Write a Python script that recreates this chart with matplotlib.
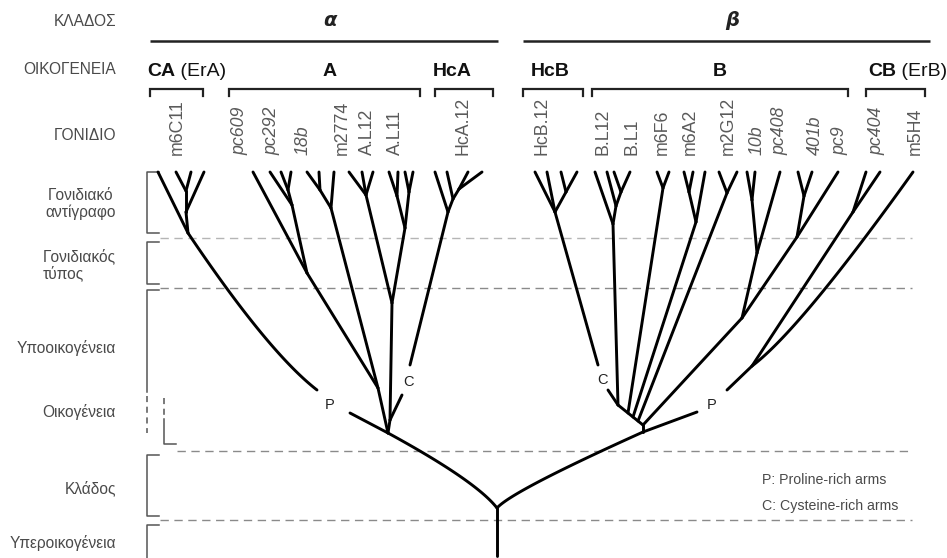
import numpy as np
import matplotlib
matplotlib.use("Agg")
import matplotlib.pyplot as plt

plt.rcParams['font.family'] = ['Liberation Sans', 'DejaVu Sans']

# ---------------- data ----------------
level_labels = ['ΚΛΑΔΟΣ', 'ΟΙΚΟΓΕΝΕΙΑ', 'ΓΟΝΙΔΙΟ', 'Γονιδιακό\nαντίγραφο',
                'Γονιδιακός\nτύπος', 'Υποοικογένεια', 'Οικογένεια', 'Κλάδος',
                'Υπεροικογένεια']
level_y = [22, 70, 135, 204, 265, 348, 412, 488, 543]
level_ma = ['right', 'right', 'right', 'center', 'left', 'right', 'right', 'right', 'right']

clades = ['α', 'β']
clade_x = [330, 732]
clade_span = [(150, 498), (523, 930)]

families = [('CA', ' (ErA)'), ('A', ''), ('HcA', ''), ('HcB', ''), ('B', ''), ('CB', ' (ErB)')]
family_span = [(150, 203), (229, 420), (435, 493), (523, 583), (592, 848), (866, 925)]
family_x = [147, 330, 452, 550, 720, 868]
family_ha = ['left', 'center', 'center', 'center', 'center', 'left']

genes = ['m6C11', 'pc609', 'pc292', '18b', 'm2774', 'A.L12', 'A.L11', 'HcA.12',
         'HcB.12', 'B.L12', 'B.L1', 'm6F6', 'm6A2', 'm2G12', '10b', 'pc408',
         '401b', 'pc9', 'pc404', 'm5H4']
gene_x = [177, 240, 272, 303, 342, 367, 395, 463,
          542, 603, 632, 662, 690, 728, 757, 780, 815, 840, 877, 915]
gene_italic = [False, True, True, True, False, False, False, False,
               False, False, False, False, False, False, True, True, True, True, True, False]

# tree nodes (x, y) in picture coordinates
nodes = {
    'base': (497, 556), 'R': (497, 508), 'Na': (388, 433), 'Nb': (643, 432),
    # alpha
    'Pa': (350, 413), 'CAlow': (317, 390), 'CA': (188, 233), 'CA1': (186, 212),
    'CA2': (186, 191), 'A1': (378, 388), 'pcN': (307, 273), 'pc292': (292, 205),
    'pc292b': (288, 190), 'b18': (331, 208), 'b18s': (320, 190), 'Nv': (390, 420),
    'Ca': (402, 395), 'mA': (392, 303), 'm2774': (366, 195), 'AL': (405, 228),
    'AL12': (397, 196), 'AL11': (409, 192), 'HcAlow': (410, 365), 'HcA': (448, 212),
    'HcA1': (453, 199), 'HcA2': (459, 189),
    # beta
    'Nb2': (643, 425), 'rk0': (618, 405), 'rk1': (628, 413), 'rk2': (633, 417),
    'rk3': (638, 421), 'Pb': (697, 412), 'CBlow': (727, 390), 'CB': (752, 366),
    'pc404': (853, 212), 'Cb': (608, 390), 'HcBlow': (598, 365), 'HcB': (555, 212),
    'HcBs': (566, 192), 'BL': (613, 224), 'BL1': (616, 206), 'BL2': (621, 192),
    'm6F6': (663, 188), 'm6A2': (696, 222), 'm6A2s': (689, 192), 'm2G12': (727, 193),
    'B4': (742, 318), 'n10b': (757, 253), 'n10bs': (752, 200), 'n401b': (797, 237),
    'n401bs': (804, 196),
}
TIP_Y = 172
tips = {
    'CA': [158], 'CA1': [204], 'CA2': [176, 191],
    'pcN': [253], 'pc292': [270], 'pc292b': [281, 291],
    'b18s': [307, 319], 'b18': [334],
    'm2774': [349, 362, 373], 'AL12': [389, 398], 'AL11': [405, 413],
    'HcA': [435], 'HcA1': [447], 'HcA2': [468, 482],
    'HcB': [535, 547], 'HcBs': [561, 577],
    'BL': [595], 'BL1': [607], 'BL2': [614, 630],
    'm6F6': [657, 669], 'm6A2s': [684, 693], 'm6A2': [705],
    'm2G12': [719, 737], 'n10bs': [747, 755], 'n10b': [780],
    'n401bs': [798, 812], 'n401b': [838], 'pc404': [866, 880],
}
edges = [
    ('base', 'R'), ('Na', 'Pa'), ('CA', 'CA1'), ('CA1', 'CA2'),
    ('Na', 'A1'), ('A1', 'pcN'), ('pcN', 'pc292'), ('pc292', 'pc292b'),
    ('A1', 'b18'), ('b18', 'b18s'), ('Na', 'Nv'), ('Nv', 'mA'), ('Nv', 'Ca'),
    ('mA', 'm2774'), ('mA', 'AL'), ('AL', 'AL12'), ('AL', 'AL11'),
    ('HcAlow', 'HcA'), ('HcA', 'HcA1'), ('HcA1', 'HcA2'),
    ('Nb', 'Nb2'), ('Nb2', 'rk0'), ('Nb', 'Pb'), ('CBlow', 'CB'), ('CB', 'pc404'),
    ('rk0', 'Cb'), ('HcBlow', 'HcB'), ('HcB', 'HcBs'),
    ('rk0', 'BL'), ('BL', 'BL1'), ('BL1', 'BL2'), ('rk1', 'm6F6'),
    ('rk2', 'm6A2'), ('m6A2', 'm6A2s'), ('rk3', 'm2G12'), ('Nb2', 'B4'),
    ('B4', 'n10b'), ('n10b', 'n10bs'), ('B4', 'n401b'), ('n401b', 'n401bs'),
]
# curved edges: (start, end, control point)
curves = [
    ('R', 'Na', (476, 481)),
    ('R', 'Nb', (512, 491)),
    ('CAlow', 'CA', (268, 352)),
    ('CB', (913, 172), (800, 330)),
]
arm_labels = [('P', 330, 405), ('C', 408, 382), ('C', 602, 380), ('P', 712, 405)]
legend_lines = ['P: Proline-rich arms', 'C: Cysteine-rich arms']
legend_y = [480, 506]

dash_y = [238, 288, 451, 520]
dash_x0 = [160, 160, 177, 160]
dash_col = ['#b5b5b5', '#8a8a8a', '#8a8a8a', '#8a8a8a']

brackets = [(172, 233), (242, 284), (455, 516), (525, 560)]

# ---------------- figure ----------------
fig = plt.figure(figsize=(9.47, 5.58), dpi=100)
ax = fig.add_axes([0, 0, 1, 1])
ax.set_xlim(0, 947)
ax.set_ylim(558, 0)
ax.axis('off')

TXT = '#4a4a4a'
for lab, y, ma in zip(level_labels, level_y, level_ma):
    ax.text(116, y, lab, ha='right', va='center', multialignment=ma,
            fontsize=11.2, color=TXT, linespacing=1.1)

for c, x, (x0, x1) in zip(clades, clade_x, clade_span):
    ax.text(x, 20, c, ha='center', va='center', fontsize=14, fontweight='bold',
            fontstyle='italic', color='#222222', family=['DejaVu Sans'])
    ax.plot([x0, x1], [41, 41], color='#222222', lw=1.8, solid_capstyle='butt')

for (bold, rest), x, ha, (x0, x1) in zip(families, family_x, family_ha, family_span):
    if rest:
        t = ax.text(x, 71, bold, ha='left', va='center', fontsize=14,
                    fontweight='bold', color='#111111')
        fig.canvas.draw()
        bb = t.get_window_extent()
        xr = ax.transData.inverted().transform((bb.x1, bb.y0))[0]
        ax.text(xr, 71, rest, ha='left', va='center', fontsize=14, color='#111111')
    else:
        ax.text(x, 71, bold, ha=ha, va='center', fontsize=14,
                fontweight='bold', color='#111111')
    ax.plot([x0, x0, x1, x1], [96, 89, 89, 96], color='#222222', lw=1.6,
            solid_joinstyle='miter')

for g, x, it in zip(genes, gene_x, gene_italic):
    ax.text(x, 155, g, rotation=90, ha='center', va='bottom', fontsize=12.8,
            color='#5a5a5a', fontstyle='italic' if it else 'normal')

# dashed level separators
for y, x0, col in zip(dash_y, dash_x0, dash_col):
    ax.plot([x0, 912], [y, y], color=col, lw=1.0, dashes=(6, 4))

# left brackets
BC = '#555555'
for y0, y1 in brackets:
    ax.plot([159, 147, 147, 159], [y0, y0, y1, y1], color=BC, lw=1.1)
ax.plot([159, 147, 147], [290, 290, 392], color=BC, lw=1.1)
ax.plot([147, 147], [396, 433], color=BC, lw=1.1, dashes=(4, 3))
ax.plot([164, 164], [398, 416], color=BC, lw=1.1, dashes=(4, 3))
ax.plot([164, 164, 176], [419, 444, 444], color=BC, lw=1.1)

# tree
LW = 2.1
def P(n):
    return nodes[n] if isinstance(n, str) else n

for a, b in edges:
    (x0, y0), (x1, y1) = P(a), P(b)
    ax.plot([x0, x1], [y0, y1], color='black', lw=LW, solid_capstyle='round')
for n, xs in tips.items():
    x0, y0 = P(n)
    for xt in xs:
        ax.plot([x0, xt], [y0, TIP_Y], color='black', lw=LW, solid_capstyle='round')
tt = np.linspace(0, 1, 60)
for a, b, c in curves:
    p0, p2, p1 = np.array(P(a)), np.array(P(b)), np.array(c)
    pts = ((1 - tt) ** 2)[:, None] * p0 + (2 * (1 - tt) * tt)[:, None] * p1 + (tt ** 2)[:, None] * p2
    ax.plot(pts[:, 0], pts[:, 1], color='black', lw=LW, solid_capstyle='round')

for s, x, y in arm_labels:
    ax.text(x, y, s, ha='center', va='center', fontsize=10.5, color='#222222')

for s, y in zip(legend_lines, legend_y):
    ax.text(762, y, s, ha='left', va='center', fontsize=10.2, color=TXT)

fig.savefig('out.png', dpi=100)
